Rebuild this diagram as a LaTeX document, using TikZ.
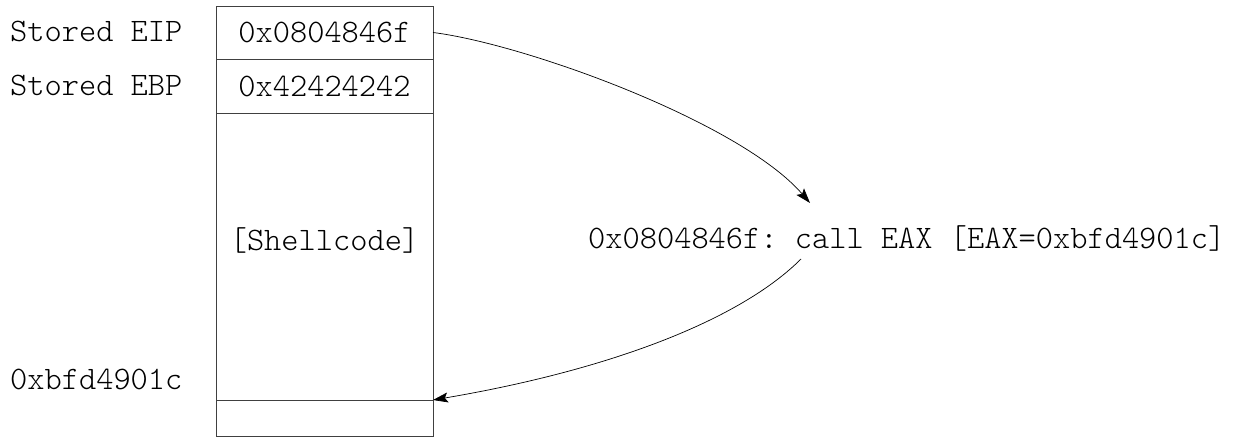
\documentclass[tikz,border=0pt]{standalone}
\usepackage{fontspec}
\setmonofont{Latin Modern Mono Light}
\usetikzlibrary{arrows.meta,calc}
\begin{document}
\begin{tikzpicture}[x=1pt,y=-1pt,
  every node/.style={font=\ttfamily\fontsize{32.8}{34}\selectfont},
  cell/.style={draw=black!75, line width=0.8pt, rectangle, inner sep=0pt, outer sep=0pt,
    minimum width=217pt, anchor=north west},
  label/.style={anchor=base west, inner sep=0pt},
  link/.style={line width=0.7pt, -{Stealth[length=15pt,width=10pt,inset=3pt]}}]
\useasboundingbox (0,0) rectangle (1234,438);
% stack frame cells
\node[cell, minimum height=53pt] (eip) at (216,6) {0x0804846f};
\node[cell, minimum height=54pt] (ebp) at (216,59) {0x42424242};
\node[cell, minimum height=287pt] (code) at (216,113) {};
\node[cell, minimum height=36pt] (low) at (216,400) {};
\node[inner sep=0pt] (shell) at ($(code.north)+(0,127)$) {[Shellcode]};
% labels left of the stack
\node[label] (leip) at (10,42) {Stored EIP};
\node[label] (lebp) at (10,96) {Stored EBP};
\node[label] (laddr) at (10,389) {0xbfd4901c};
% instruction
\node[label] (call) at (588,249) {0x0804846f: call EAX [EAX=0xbfd4901c]};
\coordinate (tip) at (810,203);
\coordinate (back) at (801,259);
% control flow
\draw[link] (eip.east) .. controls (525,44) and (740,122) .. (tip);
\draw[link] (back) .. controls (740,320) and (610,370) .. (code.south east);
\end{tikzpicture}
\end{document}
